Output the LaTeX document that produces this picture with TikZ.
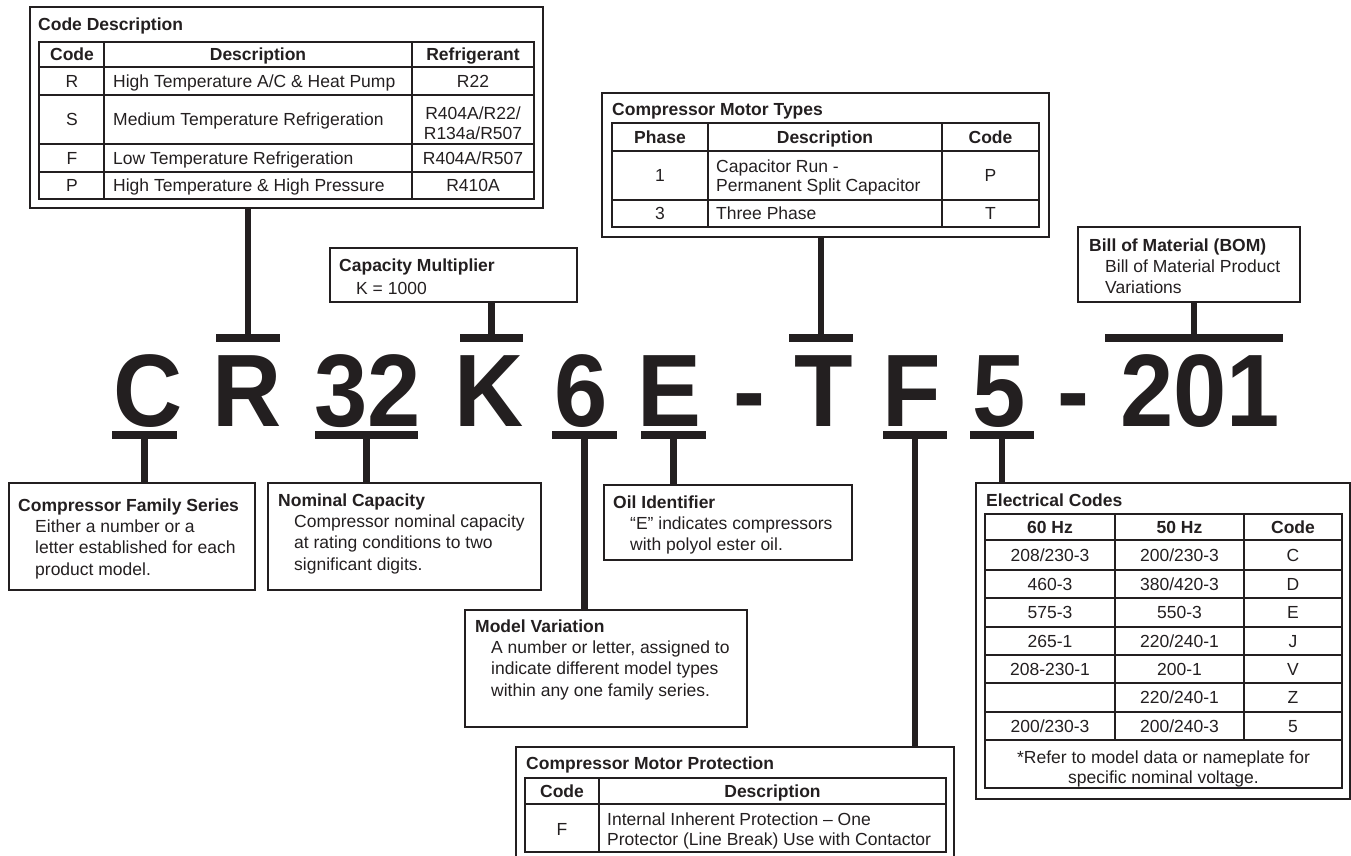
\documentclass[tikz,border=0pt]{standalone}
\usepackage{fontspec}
\setmainfont{Liberation Sans}
\newfontfamily\bigfam{Liberation Sans}[FakeStretch=0.93]
\definecolor{ink}{RGB}{35,31,32}
\newcommand{\fs}{\fontsize{17.5}{21.5}\selectfont}
\newcommand{\fsc}{\fontsize{17.5}{19.5}\selectfont}
\newcommand{\bigf}{\bigfam\fontsize{103}{103}\selectfont\bfseries}
\begin{document}
\begin{tikzpicture}[x=1pt,y=-1pt,
  box/.style={draw=ink, line width=1.5pt, inner sep=0pt, outer sep=0pt, anchor=north west},
  tline/.style={draw=ink, line width=1.8pt},
  stem/.style={draw=ink, line width=6.5pt},
  tbar/.style={fill=ink, inner sep=0pt, outer sep=0pt, minimum height=8pt},
  ttl/.style={inner sep=0pt, text=ink, font=\fs\bfseries, anchor=base west},
  body/.style={inner sep=0pt, text=ink, font=\fs, align=left, anchor=north west},
  cell/.style={inner sep=0pt, text=ink, font=\fsc, anchor=base},
  cellw/.style={inner sep=0pt, text=ink, font=\fsc, anchor=base west},
  hcell/.style={inner sep=0pt, text=ink, font=\fsc\bfseries, anchor=base},
  mcell/.style={inner sep=0pt, text=ink, font=\fsc, align=center, anchor=north},
  mcellw/.style={inner sep=0pt, text=ink, font=\fsc, align=left, anchor=north west},
  big/.style={inner sep=0pt, text=ink, font=\bigf, anchor=base}
]
\useasboundingbox (0,0) rectangle (1351,856);

% ---------- big model code ----------
\node[big] (lC) at (148,426) {C};
\node[big] (lR) at (247,426) {R};
\node[big] (l32) at (367.5,426) {32};
\node[big] (lK) at (489,426) {K};
\node[big] (l6) at (581,426) {6};
\node[big] (lE) at (669,426) {E};
\node[big] (ld1) at (749,426) {-};
\node[big] (lT) at (823.5,426) {T};
\node[big] (lF) at (911.5,426) {F};
\node[big] (l5) at (999.5,426) {5};
\node[big] (ld2) at (1073,426) {-};
\node[big] (l201) at (1200,426) {201};

% ---------- T bars ----------
\node[tbar, minimum width=64pt] (bR) at (248,338) {};
\node[tbar, minimum width=63pt] (bK) at (491.5,338) {};
\node[tbar, minimum width=64pt] (bT) at (821,338) {};
\node[tbar, minimum width=178pt] (b201) at (1194,338) {};
\node[tbar, minimum width=65pt] (bC) at (144.5,434.5) {};
\node[tbar, minimum width=103pt] (b32) at (366.5,434.5) {};
\node[tbar, minimum width=65pt] (b6) at (584.5,434.5) {};
\node[tbar, minimum width=65pt] (bE) at (673.5,434.5) {};
\node[tbar, minimum width=64pt] (bF) at (915,434.5) {};
\node[tbar, minimum width=64pt] (b5) at (1002,434.5) {};

% ---------- Code Description ----------
\node[box, minimum width=513pt, minimum height=201pt] (codebox) at (30,7) {};
\node[ttl] (cdT) at (38,31) {Code Description};
\draw[tline] (39,42) rectangle (534,199);
\foreach \yy in {67,95,144,172} \draw[tline] (39,\yy) -- (534,\yy);
\foreach \xx in {104,412} \draw[tline] (\xx,42) -- (\xx,199);
\node[hcell] (cdh1) at (72,61) {Code};
\node[hcell] (cdh2) at (258,61) {Description};
\node[hcell] (cdh3) at (473,61) {Refrigerant};
\node[cell] (cdr1) at (72,87.5) {R};
\node[cellw] (cdr2) at (113,87.5) {High Temperature A/C \& Heat Pump};
\node[cell] (cdr3) at (473,87.5) {R22};
\node[cell] (cds1) at (72,125.8) {S};
\node[cellw] (cds2) at (113,125.8) {Medium Temperature Refrigeration};
\node[mcell] (cds3) at (473,107) {R404A/R22/\\R134a/R507};
\node[cell] (cdf1) at (72,164.3) {F};
\node[cellw] (cdf2) at (113,164.3) {Low Temperature Refrigeration};
\node[cell] (cdf3) at (473,164.3) {R404A/R507};
\node[cell] (cdp1) at (72,191.8) {P};
\node[cellw] (cdp2) at (113,191.8) {High Temperature \& High Pressure};
\node[cell] (cdp3) at (473,191.8) {R410A};

% ---------- Compressor Motor Types ----------
\node[box, minimum width=447pt, minimum height=144pt] (typesbox) at (602,93) {};
\node[ttl] (mtT) at (612,116) {Compressor Motor Types};
\draw[tline] (612,123) rectangle (1039,227);
\foreach \yy in {151,200} \draw[tline] (612,\yy) -- (1039,\yy);
\foreach \xx in {708,942} \draw[tline] (\xx,123) -- (\xx,227);
\node[hcell] (mth1) at (660,143.3) {Phase};
\node[hcell] (mth2) at (825,143.3) {Description};
\node[hcell] (mth3) at (990.5,143.3) {Code};
\node[cell] (mta1) at (660,181.8) {1};
\node[mcellw] (mta2) at (716,159.3) {Capacitor Run -\\Permanent Split Capacitor};
\node[cell] (mta3) at (990.5,181.8) {P};
\node[cell] (mtb1) at (660,219.8) {3};
\node[cellw] (mtb2) at (716,219.8) {Three Phase};
\node[cell] (mtb3) at (990.5,219.8) {T};

% ---------- Capacity Multiplier ----------
\node[box, minimum width=247pt, minimum height=54pt] (capbox) at (330,248) {};
\node[ttl] (capT) at (339,271) {Capacity Multiplier};
\node[inner sep=0pt, text=ink, font=\fs, anchor=base west] (capB) at (356,294) {K = 1000};

% ---------- BOM ----------
\node[box, minimum width=222pt, minimum height=75pt] (bombox) at (1078,227) {};
\node[ttl] (bomT) at (1089,251) {Bill of Material (BOM)};
\node[body] (bomB) at (1105,259.5) {Bill of Material Product\\Variations};

% ---------- Compressor Family Series ----------
\node[box, minimum width=246pt, minimum height=107pt] (fambox) at (9,483) {};
\node[ttl] (famT) at (18,511) {Compressor Family Series};
\node[body] (famB) at (35,519.5) {Either a number or a\\letter established for each\\product model.};

% ---------- Nominal Capacity ----------
\node[box, minimum width=273pt, minimum height=107pt] (nombox) at (268,483) {};
\node[ttl] (nomT) at (278,506) {Nominal Capacity};
\node[body] (nomB) at (294,514.5) {Compressor nominal capacity\\at rating conditions to two\\significant digits.};

% ---------- Oil Identifier ----------
\node[box, minimum width=248pt, minimum height=75pt] (oilbox) at (604,485) {};
\node[ttl] (oilT) at (613,508) {Oil Identifier};
\node[body] (oilB) at (630,516.5) {“E” indicates compressors\\with polyol ester oil.};

% ---------- Model Variation ----------
\node[box, minimum width=282pt, minimum height=117pt] (modbox) at (465,610) {};
\node[ttl] (modT) at (475,632) {Model Variation};
\node[body] (modB) at (491,640.5) {A number or letter, assigned to\\indicate different model types\\within any one family series.};

% ---------- Electrical Codes ----------
\node[box, minimum width=374pt, minimum height=316pt] (elbox) at (976,483) {};
\node[ttl] (elT) at (986,506) {Electrical Codes};
\draw[tline] (985,514) rectangle (1342,788);
\foreach \yy in {540,570,598,627,655,683,712,740} \draw[tline] (985,\yy) -- (1342,\yy);
\foreach \xx in {1115,1244} \draw[tline] (\xx,514) -- (\xx,740);
\node[hcell] (elh1) at (1050,533.3) {60 Hz};
\node[hcell] (elh2) at (1179.5,533.3) {50 Hz};
\node[hcell] (elh3) at (1293,533.3) {Code};
\node[cell] (e11) at (1050,561.3) {208/230-3};
\node[cell] (e12) at (1179.5,561.3) {200/230-3};
\node[cell] (e13) at (1293,561.3) {C};
\node[cell] (e21) at (1050,590.3) {460-3};
\node[cell] (e22) at (1179.5,590.3) {380/420-3};
\node[cell] (e23) at (1293,590.3) {D};
\node[cell] (e31) at (1050,618.8) {575-3};
\node[cell] (e32) at (1179.5,618.8) {550-3};
\node[cell] (e33) at (1293,618.8) {E};
\node[cell] (e41) at (1050,647.3) {265-1};
\node[cell] (e42) at (1179.5,647.3) {220/240-1};
\node[cell] (e43) at (1293,647.3) {J};
\node[cell] (e51) at (1050,675.3) {208-230-1};
\node[cell] (e52) at (1179.5,675.3) {200-1};
\node[cell] (e53) at (1293,675.3) {V};
\node[cell] (e62) at (1179.5,703.8) {220/240-1};
\node[cell] (e63) at (1293,703.8) {Z};
\node[cell] (e71) at (1050,732.3) {200/230-3};
\node[cell] (e72) at (1179.5,732.3) {200/240-3};
\node[cell] (e73) at (1293,732.3) {5};
\node[mcell, font=\fontsize{17.5}{20}\selectfont] (elnote) at (1163.5,750.3) {*Refer to model data or nameplate for\\specific nominal voltage.};

% ---------- Compressor Motor Protection ----------
\node[box, minimum width=438pt, minimum height=115pt] (protbox) at (516,747) {};
\node[ttl] (prT) at (526,769) {Compressor Motor Protection};
\draw[tline] (525,778) rectangle (946,852);
\draw[tline] (525,804) -- (946,804);
\draw[tline] (599,778) -- (599,852);
\node[hcell] (prh1) at (562,797.3) {Code};
\node[hcell] (prh2) at (772.5,797.3) {Description};
\node[cell] (pra1) at (562,835.3) {F};
\node[mcellw, font=\fontsize{17.5}{20}\selectfont] (pra2) at (607,812.3) {Internal Inherent Protection – One\\Protector (Line Break) Use with Contactor};

% ---------- stems ----------
\draw[stem] (bR.center) -- (bR.center |- codebox.south);
\draw[stem] (bK.center) -- (bK.center |- capbox.south);
\draw[stem] (bT.center) -- (bT.center |- typesbox.south);
\draw[stem] (b201.center) -- (b201.center |- bombox.south);
\draw[stem] (bC.center) -- (bC.center |- fambox.north);
\draw[stem] (b32.center) -- (b32.center |- nombox.north);
\draw[stem] (b6.center) -- (b6.center |- modbox.north);
\draw[stem] (bE.center) -- (bE.center |- oilbox.north);
\draw[stem] (bF.center) -- (bF.center |- protbox.north);
\draw[stem] (b5.center) -- (b5.center |- elbox.north);
\end{tikzpicture}
\end{document}
